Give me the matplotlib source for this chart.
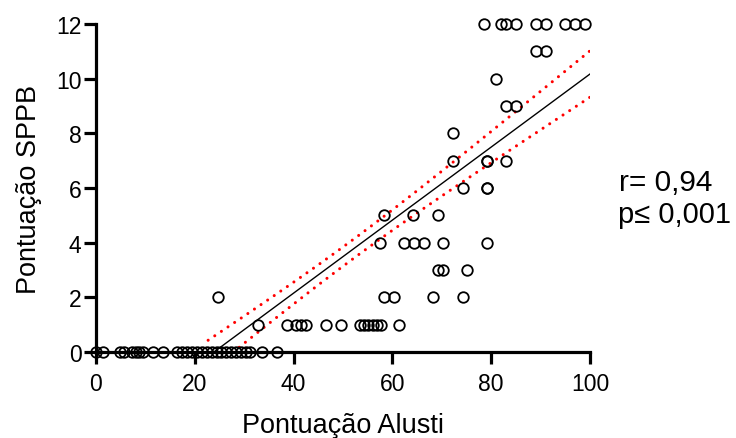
import numpy as np
import matplotlib
matplotlib.use("Agg")
import matplotlib.pyplot as plt

plt.rcParams['font.family'] = ['Liberation Sans', 'DejaVu Sans']

# Pontuação SPPB score -> list of Alusti scores at that level
sppb_levels = [12, 11, 10, 9, 8, 7, 6, 5, 4, 3, 2, 1, 0]
alusti_by_level = [
    [78.5, 82, 83, 85, 89, 91, 95, 97, 99],
    [89, 91],
    [81],
    [83, 85],
    [72.3],
    [72.3, 79.2, 79.2, 83],
    [74.2, 79.2, 79.2],
    [58.3, 64.2, 69.3],
    [57.5, 62.3, 64.4, 66.4, 70.3, 79.2],
    [69.3, 70.3, 75.2],
    [24.7, 58.3, 60.3, 68.3, 74.2],
    [32.7, 38.6, 40.5, 41.4, 42.5, 46.6, 49.5, 53.4, 54.3, 55.1, 56.0, 56.8, 57.6, 61.4],
    [0, 1.5, 4.8, 5.6, 7.3, 8.1, 8.8, 9.5, 11.6, 13.6, 16.4, 17.4, 18.4, 19.4, 20.4,
     21.4, 22.4, 23.4, 24.4, 25.4, 26.4, 27.4, 28.4, 29.4, 30.3, 31.2, 33.6, 36.7],
]

# fitted regression line and 95% band
slope = 0.1336
intercept = -3.19
fit_x_range = [22.7, 100]
band_center_x = 52
band_h0 = 0.35
band_k = 0.0161

r_text = "r= 0,94"
p_text = "p\u2264 0,001"

xs, ys = [], []
for lvl, vals in zip(sppb_levels, alusti_by_level):
    xs.extend(vals)
    ys.extend([lvl] * len(vals))

fig = plt.figure(figsize=(7.36, 4.39), dpi=100)
ax = fig.add_axes([96 / 736, 86 / 439, 494 / 736, 328 / 439])

fx = np.linspace(fit_x_range[0], fit_x_range[1], 200)
fy = intercept + slope * fx
half = np.sqrt(band_h0 ** 2 + (band_k * (fx - band_center_x)) ** 2)

ax.plot(fx, fy, color='black', lw=1.0, zorder=2)
for band in (fy + half, fy - half):
    ax.plot(fx, band, color='red', lw=2.2, linestyle=(0, (0.01, 2.6)),
            dash_capstyle='round', zorder=2)

ax.plot(xs, ys, 'o', ms=7.6, mfc='none', mec='black', mew=1.3,
        clip_on=False, zorder=3)

ax.set_xlim(0, 100)
ax.set_ylim(0, 12)
ax.set_xticks([0, 20, 40, 60, 80, 100])
ax.set_yticks([0, 2, 4, 6, 8, 10, 12])

for s in ('top', 'right'):
    ax.spines[s].set_visible(False)
for s in ('left', 'bottom'):
    ax.spines[s].set_linewidth(2.3)
    ax.spines[s].set_capstyle('projecting')
ax.tick_params(width=2.3, length=8.5, labelsize=16.5)
ax.tick_params(axis='x', pad=6)
ax.tick_params(axis='y', pad=2)

ax.set_xlabel("Pontuação Alusti", fontsize=19.5, labelpad=12)
ax.set_ylabel("Pontuação SPPB", fontsize=19.5, labelpad=10)

fig.text(619 / 736, 1 - 183 / 439, r_text, fontsize=21.5, va='center', ha='left')
fig.text(618 / 736, 1 - 215 / 439, p_text, fontsize=21, va='center', ha='left')

fig.savefig("out.png", dpi=100)
